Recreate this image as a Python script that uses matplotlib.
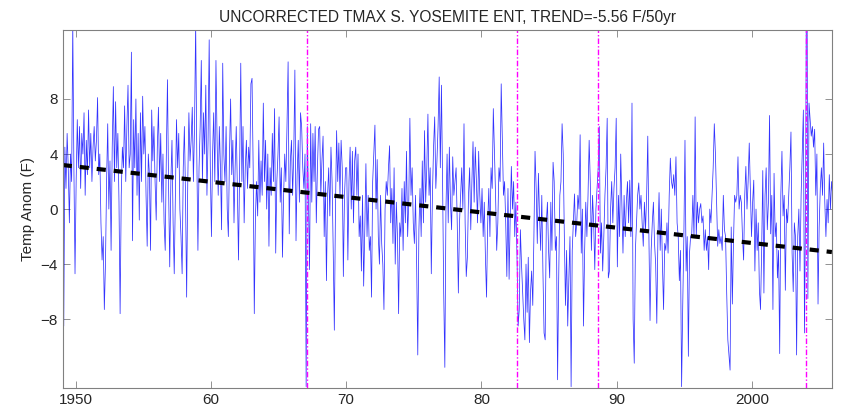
import matplotlib
matplotlib.use('Agg')
import matplotlib.pyplot as plt
import numpy as np

# monthly TMAX anomalies (F), one row of 12 per year
temps_1949_1959 = [
    [7.0, -8.5, 4.5, 1.5, 5.5, 3.0, -1.0, 4.0, 2.0, 13.5, 3.0, -4.7],
    [2.0, 6.5, 3.0, 6.0, 1.5, 5.5, 4.0, 7.0, 1.0, 5.0, 2.5, 7.2],
    [3.0, 5.5, 2.0, 4.5, 6.0, 3.5, 5.0, 8.1, 2.5, 4.0, -1.0, -3.7],
    [-2.0, -7.3, -4.0, 2.0, 6.2, 0.0, 3.5, -3.0, 4.5, 8.9, 2.0, 7.8],
    [3.0, 5.5, 0.5, -7.6, 1.0, 4.5, 3.0, 7.5, 2.0, 6.0, 9.0, 3.0],
    [4.0, 11.4, -2.3, 6.5, 3.0, 8.0, 1.0, 5.5, -0.8, 7.0, 2.0, 8.2],
    [4.0, 6.0, 1.0, -2.7, 4.0, 2.5, -3.0, 7.2, 3.5, 6.0, 2.0, -0.8],
    [4.5, 7.4, 2.0, 5.5, 0.5, 4.0, -1.0, -3.0, 4.0, 9.4, 1.5, -4.2],
    [2.0, 5.0, -1.0, -4.7, 1.0, 6.5, 3.0, 5.5, 0.0, -2.0, -4.7, 3.0],
    [6.0, 1.0, -6.4, 2.0, 7.0, 3.5, 5.0, 7.4, 2.0, 6.0, 13.5, 4.0],
    [-3.0, 3.0, 6.0, 10.8, 2.0, 7.0, 4.0, 9.0, 1.0, 5.0, 12.3, 3.0],
]
temps_1960_1969 = [
    [-2.0, 4.0, 7.0, 2.0, 10.8, 5.0, 1.0, 6.0, 3.0, -1.5, 10.6, 4.0],
    [2.0, 6.0, 0.0, -2.0, 4.0, 8.0, 2.5, 5.0, -1.0, 3.0, 6.0, 1.5],
    [-3.7, 3.0, 10.6, 2.0, 6.0, -1.0, 3.0, 5.0, 1.5, 4.5, 3.0, 9.1],
    [9.5, 3.0, -7.6, -0.6, 2.0, -0.5, 5.0, 0.5, 3.5, 1.0, 7.7, 2.0],
    [5.0, 0.0, 4.0, -2.7, 3.0, 1.0, 5.5, 2.0, 7.3, -3.2, 2.0, 4.0],
    [6.7, 0.5, 3.0, -3.5, 1.0, 4.0, 2.0, 6.0, 10.7, -1.8, 3.5, 5.0],
    [1.0, 4.0, 10.1, -2.3, 2.5, 5.0, 0.5, 7.0, 6.0, 3.0, 1.5, 4.0],
    [-12.9, 6.0, 1.0, -4.4, 6.2, 0.5, 5.5, 2.0, 6.0, -1.0, 3.0, 5.8],
    [6.0, 1.0, 3.5, 5.3, -2.0, 2.0, -5.2, 1.0, 3.0, -0.5, 4.5, 2.0],
    [-3.0, -8.8, 0.0, 5.7, 2.0, 4.8, 1.0, 5.0, 3.0, -4.9, 1.0, 3.0],
]
temps_1970_1979 = [
    [3.0, -3.7, 2.0, 4.5, 0.0, 4.2, -1.0, 3.5, 4.5, 1.0, 4.0, -2.0],
    [-0.5, -4.5, 1.0, -5.6, -1.5, 3.3, -2.0, 1.0, -3.0, -2.0, -6.4, 2.0],
    [4.0, 6.1, 0.0, 3.6, -2.0, -4.0, 1.0, -2.5, -4.0, -7.3, 0.0, 2.0],
    [1.0, 3.0, 4.6, -1.0, 1.5, -2.5, 3.0, -4.0, 0.5, -2.0, -7.6, -1.0],
    [-2.0, 1.5, -3.0, 2.0, -1.0, 4.2, -2.0, 0.5, 6.6, 1.0, 3.0, -1.0],
    [-2.5, 1.0, -4.0, -10.6, -1.5, 1.5, -2.0, 3.5, -1.0, 5.7, 0.5, 3.0],
    [6.9, 1.0, 3.0, -4.7, 1.0, 4.5, 6.7, 1.5, 3.5, 6.0, 9.6, 3.0],
    [9.0, 2.0, -6.1, -11.5, 0.0, 4.0, -1.0, 4.5, 0.5, -1.5, 3.8, 1.0],
    [2.0, 3.0, -1.0, -6.1, -1.0, 1.0, 3.0, 0.0, 6.2, -1.0, -4.9, -3.5],
    [1.0, 3.0, -1.5, 2.0, 4.9, 0.5, 4.5, 2.0, -1.0, 4.2, 1.0, -1.0],
]
temps_1980_1989 = [
    [1.5, -2.0, 0.5, -3.5, -6.4, -1.0, 1.5, -2.0, 3.0, 1.5, 7.3, 4.0],
    [1.0, -3.0, -1.0, 3.0, 2.0, 9.1, 5.0, 1.0, 2.0, -1.0, -4.9, 1.5],
    [-5.1, -0.5, 3.1, 0.0, 2.0, -2.0, 0.5, -3.5, -8.5, -7.3, -1.5, -4.0],
    [-6.0, -8.0, -9.5, -4.0, -7.5, -3.5, -9.7, -6.0, -4.5, -7.0, -2.0, 4.2],
    [1.5, -2.5, 2.6, -0.5, -3.0, 1.0, -4.5, -9.0, -9.5, -1.0, 0.5, -3.0],
    [-5.0, 0.5, -3.0, 3.4, 2.0, -3.0, -2.0, -12.4, -5.0, 1.0, 2.0, 6.2],
    [4.0, -2.0, -7.0, -3.0, -8.5, -5.0, -2.0, -12.9, -3.0, -1.0, 1.1, -2.0],
    [-1.0, 1.0, 0.0, 5.4, -3.2, 0.0, -8.5, -3.0, 0.5, -2.0, 1.0, 5.0],
    [2.0, -3.0, 1.0, -1.0, -4.4, 0.0, 1.5, 3.0, 6.0, -3.2, -1.0, -4.5],
    [-2.0, 1.0, 3.0, 6.6, -5.0, -4.5, 0.0, 2.0, -1.0, 1.5, 3.0, 6.6],
]
temps_1990_1999 = [
    [-4.2, 1.0, -2.0, 4.0, 0.5, -3.2, 1.0, -2.0, 0.5, 2.0, -1.0, 2.1],
    [-2.0, 7.7, -8.0, -11.2, -3.0, -1.0, 1.0, 1.9, 0.0, 1.0, -1.0, -2.7],
    [0.5, -1.5, 1.0, 5.3, -2.0, -8.1, -3.0, -1.0, 0.5, -2.5, -4.0, -8.3],
    [-2.0, 1.2, -3.0, 0.0, -4.0, -7.3, -2.5, -3.0, -1.0, -3.2, 1.0, 3.7],
    [2.0, 1.5, 2.5, 1.0, 3.8, -1.0, -2.0, -5.2, -3.0, -12.9, -7.0, -2.0],
    [5.0, -4.5, -2.0, -10.7, -3.2, -2.0, -1.8, 1.0, -2.0, 6.7, -2.0, 0.5],
    [-1.0, 0.0, 0.4, -1.0, -0.5, -3.0, -1.5, -3.0, -2.0, -4.4, 0.0, -1.0],
    [1.0, 3.0, 6.2, 4.0, 0.5, -2.7, -1.5, -2.5, -2.0, -3.0, 1.0, -1.5],
    [-2.0, -6.1, -9.5, -10.6, -11.7, -1.3, -6.9, -2.5, 1.0, 0.5, 1.0, 3.8],
    [0.0, 1.0, 0.5, -2.0, -3.7, 1.0, 3.1, 0.0, 2.0, 4.8, 1.5, -2.0],
]
temps_2000_2005 = [
    [0.5, 2.1, -4.5, 0.0, -3.0, -1.0, -5.9, -7.3, -3.0, 2.8, -6.1, 1.0],
    [3.0, -1.5, 0.5, 6.8, -1.8, 1.0, -7.3, 2.6, -2.0, -1.0, -5.0, -3.0],
    [-10.5, 1.0, 4.2, -0.5, 1.0, -5.9, 0.0, -1.0, 1.0, 3.0, 5.6, -3.2],
    [-6.0, -1.0, -2.0, -10.6, -2.0, 0.0, -4.5, 1.0, 4.0, 7.2, -9.0, 1.0],
    [25.0, -6.5, 7.7, 6.5, 5.3, 6.0, 4.5, 5.8, 1.0, 4.0, -6.9, -1.3],
    [1.5, 3.0, 1.0, 4.8, 0.5, -2.0, 0.7, -1.0, 2.5, 0.0, 2.0, 1.0],
]
first_year = 1949

# station change dates
breaks = [1967.1, 1982.6, 1988.6, 2004.0]

# linear trend
trend_per_50yr = -5.56
trend_start_year = 1949.05
trend_start_value = 3.2
trend_end_year = 2005.9

xticks = [1950, 1960, 1970, 1980, 1990, 2000]
xticklabels = ['1950', '60', '70', '80', '90', '2000']
yticks = [-8, -4, 0, 4, 8]

temps = np.concatenate([np.ravel(d) for d in (temps_1949_1959, temps_1960_1969, temps_1970_1979,
                                              temps_1980_1989, temps_1990_1999, temps_2000_2005)])
t = first_year + (np.arange(len(temps)) + 0.5) / 12.0

trend_x = np.array([trend_start_year, trend_end_year])
trend_y = trend_start_value + trend_per_50yr / 50.0 * (trend_x - trend_start_year)

plt.rcParams['font.family'] = ['Liberation Sans', 'DejaVu Sans']

fig = plt.figure(figsize=(8.42, 4.13), dpi=100)
ax = fig.add_axes([0.0745, 0.0605, 0.9135, 0.8665])

ax.plot(t, temps, color='#0000ff', lw=0.55, alpha=0.8)
for b in breaks:
    ax.axvline(b, color='#ff00ff', lw=1.0, linestyle=(0, (4, 1.5, 1, 1.5)))
ax.plot(trend_x, trend_y, color='black', lw=3.0, linestyle=(0, (2.2, 1.9)))

ax.set_xlim(trend_start_year, trend_end_year)
ax.set_ylim(-13, 13)
ax.set_xticks(xticks)
ax.set_xticklabels(xticklabels)
ax.set_yticks(yticks)
ax.tick_params(direction='in', length=5, width=0.6, colors='#808080', labelcolor='#262626',
               labelsize=11, top=True, right=True)
for s in ax.spines.values():
    s.set_color('#808080')
    s.set_linewidth(0.8)

ax.set_ylabel('Temp Anom (F)', fontsize=11, color='#262626')
ax.set_title('UNCORRECTED TMAX S. YOSEMITE ENT, TREND=-5.56 F/50yr', fontsize=11.2, color='#262626', pad=6)

fig.savefig('out.png', dpi=100)
